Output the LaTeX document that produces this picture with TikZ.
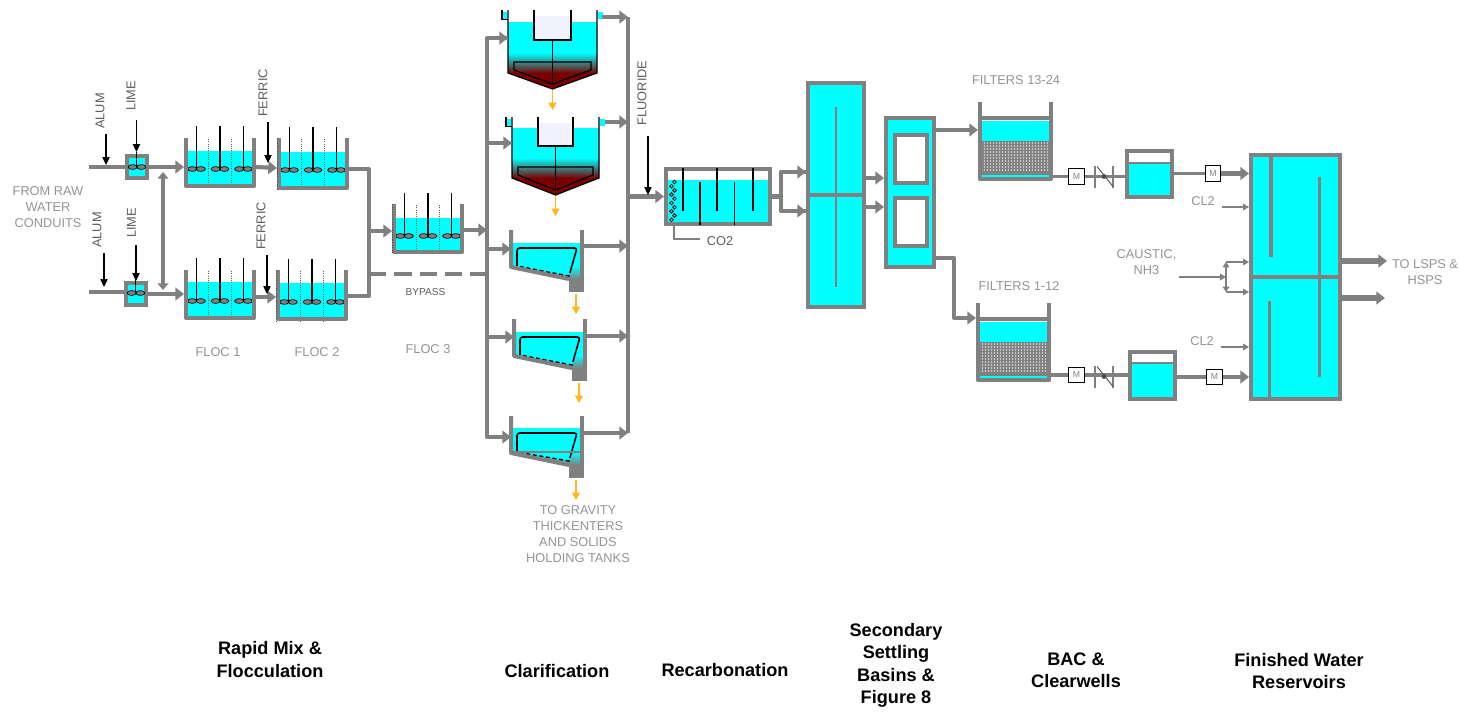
\documentclass[tikz,border=0pt]{standalone}
\usepackage{fontspec}
\setmainfont{Liberation Sans}
\usetikzlibrary{arrows.meta,calc}
\definecolor{pipegray}{HTML}{808080}
\definecolor{water}{HTML}{00FFFF}
\definecolor{sludge}{HTML}{7A0000}
\definecolor{lblgray}{HTML}{949494}
\definecolor{lbldark}{HTML}{5E5E5E}
\definecolor{orangeflow}{HTML}{FFB819}
\tikzset{
 x=0.75pt,y=-0.75pt,
 pipe/.style={draw=pipegray,line width=3.1pt,line join=round},
 pipearrow/.style={pipe,-{Triangle[length=6.5pt,width=9.5pt]}},
 thinarrow/.style={draw=pipegray,line width=.8pt,-{Triangle[length=4.5pt,width=5pt]}},
 dosearrow/.style={draw=black,line width=.9pt,-{Triangle[length=6pt,width=5.5pt]}},
 orangearrow/.style={draw=orangeflow,line width=1pt,-{Triangle[length=5.5pt,width=6pt]}},
 wall/.style={draw=pipegray,line width=3pt,line join=round},
 thinblack/.style={draw=black,line width=.9pt},
 place/.style={inner sep=0pt,outer sep=0pt},
 lbl/.style={inner sep=0pt,text=lblgray,align=center,font=\fontsize{9.6}{12}\selectfont},
 dlbl/.style={inner sep=0pt,text=lbldark,font=\fontsize{9.6}{12}\selectfont},
 head/.style={inner sep=0pt,text=black,align=center,font=\fontsize{13.6}{16.8}\selectfont\bfseries},
 meter/.style={draw=black,fill=white,line width=.9pt,inner sep=0pt,minimum size=11.5pt,text=pipegray,font=\fontsize{6.5}{7}\selectfont},
 frame/.style={draw=pipegray,line width=3pt,outer sep=1.5pt},
}
% name, x1, y1, x2, y2, style: an invisible place
\newcommand\mkBox[6]{\node[place,#6,minimum width={(#4-#2)*0.75pt},minimum height={(#5-#3)*0.75pt}] (#1) at ({(#2+#4)/2},{(#3+#5)/2}) {};}
% name, outer x1, y1, x2, y2, style: a framed box whose outer edge is at the given values
\newcommand\mkFrame[6]{\node[inner sep=0pt,frame,#6,minimum width={(#4-#2-4)*0.75pt},minimum height={(#5-#3-4)*0.75pt}] (#1) at ({(#2+#4)/2},{(#3+#5)/2}) {};}
\newcommand\paddle[2]{\draw[black,fill=pipegray,line width=.5pt] (#1-4.3,#2) ellipse [x radius=3.4pt,y radius=1.8pt] (#1+4.3,#2) ellipse [x radius=3.4pt,y radius=1.8pt];}
% name x ytop ywater ybot yshaft ypaddle
\newcommand\mkFloc[7]{
 \mkBox{#1}{#2}{#3}{#2+72}{#5}{}
 \fill[water] (#2+1,#4) rectangle (#2+71,#5);
 \foreach \dx in {24,47} \draw[pipegray!70!black,line width=.7pt,densely dotted] (#2+\dx,#3+1) -- (#2+\dx,#5);
 \foreach \dx in {12.5,36,59.5} {\draw[black,line width=.9pt] (#2+\dx,#6) -- (#2+\dx,#7); \paddle{#2+\dx}{#7}}
 \draw[wall] (#2+2,#3) -- (#2+2,#5-2) -- (#2+70,#5-2) -- (#2+70,#3);
}
% name xl xr ytop ywater ywall yapex halfbox boxbottom
\newcommand\mkClar[9]{
 \pgfmathsetmacro\cx{(#2+#3)/2}
 \mkBox{#1}{#2}{#4}{#3}{#7}{}
 \fill[water] (#2,#5) rectangle (#3,#6-20);
 \shade[top color=water,middle color=pipegray!85!sludge,bottom color=sludge] (#2,#6-20) rectangle (#3,#6);
 \fill[sludge] (#2,#6) -- (\cx,#7) -- (#3,#6) -- cycle;
 \draw[thinblack] (#2,#4) -- (#2,#6) -- (\cx,#7) -- (#3,#6) -- (#3,#4);
 \fill[white] (\cx-#8,#4) rectangle (\cx+#8,#4+6);
 \fill[black!4!blue!5!white] (\cx-#8,#4+6) rectangle (\cx+#8,#9);
 \draw[thinblack] (\cx-#8,#4) -- (\cx-#8,#9) -- (\cx+#8,#9) -- (\cx+#8,#4);
 \draw[thinblack] (\cx,#9) -- (\cx,#7-5);
 \draw[thinblack] (#2+6,#6-11) -- (#3-6,#6-11) -- (#3-6,#6-3) -- (\cx,#7-5) -- (#2+6,#6-3) -- cycle;
 \fill[water] (#2-5,#4+2) rectangle (#2-1,#4+9);
 \fill[water] (#3+1,#4+2) rectangle (#3+6,#4+9);
 \draw[thinblack] (#2-6,#4) -- (#2-6,#4+9.5) -- (#2,#4+9.5);
 \draw[orangearrow] (\cx,#7+1) -- (\cx,#7+21);
}
% name xl ytop ywater ybl
\newcommand\mkTube[5]{
 \mkBox{#1}{#2}{#3}{#2+71}{#5+25}{}
 \begin{scope}
  \clip (#2,#4) -- (#2+71,#4) -- (#2+71,#5+12) -- (#2+58,#5+12) -- (#2,#5) -- cycle;
  \fill[water] (#2,#4) rectangle (#2+71,#5+12);
  \shade[top color=water,bottom color=pipegray] (#2,#5-1) rectangle (#2+71,#5+12);
 \end{scope}
 \fill[water] (#2+6,#4+5) -- (#2+66,#4+5) -- (#2+58,#4+33) -- (#2+6,#5-1) -- cycle;
 \draw[black,line width=1.2pt,rounded corners=2pt] (#2+6,#5-1) -- (#2+6,#4+5) -- (#2+66,#4+5) -- (#2+60,#4+26);
 \draw[black,line width=1.1pt,densely dashed] (#2+60,#4+26) -- (#2+58,#4+33) -- (#2+6,#5-1);
 \fill[pipegray] (#2+58,#5+12) rectangle (#2+71,#5+25);
 \draw[wall] (#2,#3) -- (#2,#5) -- (#2+58,#5+12);
 \draw[wall] (#2+71,#3) -- (#2+71,#5+25);
 \draw[orangearrow] (#2+65,#5+27) -- (#2+65,#5+47);
}
% name x1 x2 ytop ywatertop ybot
\newcommand\mkFilter[6]{
 \mkBox{#1}{#2}{#4}{#3}{#6}{}
 \fill[water] (#2+2,#5+3) rectangle (#3-2,#5+23);
 \fill[water] (#2+2,#6-6) rectangle (#3-2,#6-2);
 \fill[pipegray] (#2+2,#5+23) rectangle (#3-2,#6-6);
 \foreach \yy in {0,3,...,27} \foreach \xx in {0,3,...,66}
  \fill[white!70!pipegray] (#2+3.5+\xx,#5+25+\yy) circle (.7pt);
 \draw[wall] (#2+2,#5) -- (#3-2,#5);
 \draw[wall] (#2+2,#4) -- (#2+2,#6-2) -- (#3-2,#6-2) -- (#3-2,#4);
}
% name x1 y1 x2 y2 ywater
\newcommand\mkWell[6]{
 \mkFrame{#1}{#2}{#3}{#4}{#5}{fill=white}
 \fill[water] (#2+2,#6) rectangle (#4-2,#5-2);
 \draw[pipegray,line width=1.5pt] (#2+2,#6) -- (#4-2,#6);
 \draw[pipegray,line width=3pt] (#2+2,#3+2) rectangle (#4-2,#5-2);
}
\newcommand\valve[3]{ % name x y
 \coordinate (#1) at (#2,#3);
 \draw[pipegray,line width=.8pt] (#2-9,#3-11) -- (#2-9,#3+11) (#2+9,#3-11) -- (#2+9,#3+11);
 \draw[pipegray!70!black,line width=.8pt] (#2-7,#3-10) -- (#2+9,#3+10);
 \fill[black!70] (#2,#3) circle (1.8pt);
}
\newcommand\dose[5]{ % name x y1 ytarget style
 \coordinate (#1s) at (#2,#3);
 \coordinate (#1e) at (#2,#4);
 \draw[#5] (#1s) -- (#1e);
}
\begin{document}
\begin{tikzpicture}
\useasboundingbox (0,0) rectangle (1459,714);
\fill[white] (0,0) rectangle (1459,714);

%% ---------- tanks ----------
\mkFrame{mixA}{125}{154}{149}{180}{fill=water}
\mkFrame{mixB}{124}{281}{148}{307}{fill=water}
\paddle{137}{167}
\paddle{136}{293}
\mkFloc{flocAa}{184}{138}{151}{188}{126}{169}
\mkFloc{flocAb}{277}{138}{152}{190}{127}{170}
\mkFloc{flocBa}{184}{270}{282}{320}{258}{301}
\mkFloc{flocBb}{276}{270}{283}{321}{259}{302}
\mkFloc{flocC}{392}{204}{218}{254}{193}{236}
\foreach \n in {flocAb,flocBb,flocC}
 \draw[black!70,line width=.9pt,densely dotted] ([xshift=.4pt]\n.north west) -- ([xshift=.4pt]\n.south west);

\mkClar{clarA}{508}{597}{10}{22}{73}{89}{18.5}{40}
\mkClar{clarB}{512}{599}{117}{128}{178}{195}{17.5}{146}
\mkTube{tubeA}{511}{230}{243}{267}
\mkTube{tubeB}{514}{319}{332}{356}
\mkTube{tubeC}{511}{416}{428}{453}
\draw[pipegray,line width=1pt] (512,452) -- (581,452);

%% recarbonation
\mkFrame{recarb}{664}{167}{772}{226}{}
\fill[water] (666,180) rectangle (770,224);
\draw[pipegray,line width=3pt] (666,169) rectangle (770,224);
\foreach \xx/\ya/\yb in {683/168/211,700/182/225,717/168/211,734.5/182/225,753/168/211}
 \draw[black,line width=.9pt] (\xx,\ya) -- (\xx,\yb);
\foreach \i in {0,...,9}
 \draw[black,line width=.6pt] ({673+(-1)^\i*1.5},{182+\i*4.2}) circle (1.4pt);

%% secondary settling
\mkFrame{settle}{806}{81}{866}{309}{fill=water}
\draw[pipegray,line width=3pt] (settle.west) -- (settle.east);
\draw[pipegray,line width=2.2pt] (836,107) -- (836,287);
%% figure 8
\mkFrame{fig}{884}{116}{936}{269}{fill=water}
\mkFrame{figA}{893}{133}{929}{185}{fill=white}
\mkFrame{figB}{893}{196}{929}{248}{fill=white}

%% filters and clearwells
\mkFilter{filtA}{978}{1053}{102}{118}{181}
\mkFilter{filtB}{976}{1051}{303}{319}{382}
\mkWell{wellA}{1125}{149}{1174}{199}{163}
\mkWell{wellB}{1128}{350}{1177}{401}{363}

%% reservoir
\mkFrame{res}{1249}{153}{1342}{401}{fill=water}
\draw[pipegray,line width=3.2pt] (res.west) -- (res.east);
\draw[pipegray,line width=2.8pt] (1271,153) -- (1271,257);
\draw[pipegray,line width=2.8pt] (1319.5,177) -- (1319.5,377);
\draw[pipegray,line width=2.8pt] (1269.5,301) -- (1269.5,401);

%% ---------- free ends and headers ----------
\coordinate (inA) at (89,167);
\coordinate (inB) at (89,292);
\coordinate (h0a) at (163,172);
\coordinate (h0b) at (163,290);
\coordinate (h1t) at (369,169);
\coordinate (h1b) at (369,296);
\coordinate (h2t) at (487,38);
\coordinate (h2b) at (487,437);
\coordinate (h3t) at (628,17);
\coordinate (h3b) at (628,433);
\coordinate (brA) at (781,172);
\coordinate (brB) at (781,211);
\coordinate (toF) at (954,258);
\coordinate (toG) at (954,318);
\coordinate (outA) at (1387,261);
\coordinate (outB) at (1385,298);

%% ---------- pipes ----------
\draw[pipe] (inA) -- (mixA.west);
\draw[pipe] (inB) -- (mixB.west |- inB);
\draw[pipearrow] (mixA.east) -- (flocAa.west |- mixA.east);
\draw[pipearrow,line width=3.6pt] (mixB.east) -- (flocBa.west |- 0,294);
\draw[pipe,line width=2.8pt,{Triangle[length=5pt,width=8pt]}-{Triangle[length=5pt,width=8pt]}] (h0a) -- (h0b);
\draw[pipearrow] (flocAa.east |- 0,167) -- (flocAb.west |- 0,168);
\draw[pipearrow] (flocBa.east |- 0,297) -- (flocBb.west |- 0,297);
\draw[pipe] (flocAb.east |- h1t) -- (h1t) -- (h1b) -- (flocBb.east |- h1b);
\draw[pipearrow] (h1t |- 0,231) -- (flocC.west |- 0,231);
\draw[pipe,dash pattern=on 13pt off 6pt] (h1t |- 0,274) -- (h2t |- 0,274);
\draw[pipearrow] (flocC.east |- 0,230) -- (h2t |- 0,230);
\draw[pipe] (clarA.west |- h2t) -- (h2t) -- (h2b) -- (tubeC.west |- h2b);
\draw[pipearrow] (h2t) -- (clarA.west |- h2t);
\draw[pipearrow] (h2t |- 0,143) -- (clarB.west |- 0,143);
\draw[pipearrow] (h2t |- 0,249) -- (tubeA.west |- 0,249);
\draw[pipearrow,line width=3.6pt] (h2t |- 0,337) -- (tubeB.west |- 0,337);
\draw[pipearrow] (h2t |- h2b) -- (tubeC.west |- h2b);
\draw[pipearrow] (602,17) -- (h3t);
\draw[pipearrow] (605,122) -- (h3t |- 0,122);
\draw[pipearrow] (tubeA.east |- 0,246) -- (h3t |- 0,246);
\draw[pipearrow] (tubeB.east |- 0,336) -- (h3t |- 0,336);
\draw[pipearrow] (tubeC.east |- h3b) -- (h3b);
\draw[pipe] (h3t) -- (h3b);
\draw[pipearrow] (h3t |- recarb.west) -- (recarb.west);
\draw[pipe,line width=3.6pt] (recarb.east) -- (brA |- recarb.east);
\draw[pipe,line width=3.6pt] (settle.west |- brA) -- (brA) -- (brB) -- (settle.west |- brB);
\draw[pipearrow,line width=3.6pt] (brA) -- (settle.west |- brA);
\draw[pipearrow,line width=3.6pt] (brB) -- (settle.west |- brB);
\draw[pipearrow] (settle.east |- 0,178) -- (fig.west |- 0,178);
\draw[pipearrow,line width=3.6pt] (settle.east |- 0,207) -- (fig.west |- 0,207);
\draw[pipearrow] (fig.east |- 0,130) -- (filtA.west |- 0,130);
\draw[pipe] (fig.east |- toF) -- (toF) -- (toG);
\draw[pipearrow] (toF) -- (toG) -- (filtB.west |- toG);
\coordinate (mAc) at (1076.5,176.5);
\coordinate (mBc) at (1076.5,375);
\coordinate (mCc) at (1213,173.5);
\coordinate (mDc) at (1214.5,377);
\draw[pipe,line width=2.6pt] (filtA.east |- mAc) -- (wellA.west |- mAc);
\draw[pipe,line width=2.6pt] (filtB.east |- mBc) -- (wellB.west |- mBc);
\valve{vA}{1104}{176.5}
\valve{vB}{1104}{376.5}
\draw[pipe,line width=2.6pt] (wellA.east |- mCc) -- (mCc);
\draw[pipe,line width=2.6pt] (wellB.east |- mDc) -- (mDc);
\draw[pipearrow] (mCc) -- (res.west |- mCc);
\draw[pipearrow] (mDc) -- (res.west |- mDc);
\draw[pipearrow,line width=4.6pt] (res.east |- outA) -- (outA);
\draw[pipearrow,line width=4.6pt] (res.east |- outB) -- (outB);
\node[meter] (mA) at (mAc) {M};
\node[meter] (mB) at (mBc) {M};
\node[meter] (mC) at (mCc) {M};
\node[meter] (mD) at (mDc) {M};

%% ---------- chemical dosing ----------
\dose{alumA}{106}{134}{165}{dosearrow}
\dose{limeA}{136.5}{120}{152}{dosearrow}
\draw[black,line width=.9pt] (limeAe) -- (136.5,166);
\dose{ferrA}{268}{122}{163}{dosearrow}
\dose{alumB}{104}{253}{287}{dosearrow}
\dose{limeB}{136}{245}{281}{dosearrow}
\draw[black,line width=1.2pt] (135.5,261) -- (135.5,292);
\dose{ferrB}{267}{255}{294}{dosearrow}
\dose{fluo}{648}{136}{195}{dosearrow}
\coordinate (co2a) at (700,239);
\coordinate (co2b) at (674,239);
\draw[pipegray,line width=.8pt] (co2a) -- (co2b) -- (674,222);
\coordinate (clAs) at (1222,207);
\coordinate (clBs) at (1221,347);
\coordinate (cauS) at (1179,277);
\coordinate (cauJ) at (1226,277);
\coordinate (cauT) at (1226,262);
\coordinate (cauB) at (1226,292);
\draw[thinarrow] (clAs) -- (res.west |- clAs);
\draw[thinarrow] (clBs) -- (res.west |- clBs);
\draw[thinarrow] (cauS) -- (cauJ);
\draw[thinarrow,{Triangle[length=4pt,width=5pt]}-] (cauT) -- (cauJ);
\draw[thinarrow,{Triangle[length=4pt,width=5pt]}-] (cauB) -- (cauJ);
\draw[thinarrow] (cauT) -- (res.west |- cauT);
\draw[thinarrow] (cauB) -- (res.west |- cauB);

%% ---------- labels ----------
\node[lbl] (t1) at (48,207) {FROM RAW\\WATER\\CONDUITS};
\node[dlbl,rotate=90] (t2) at (100,111) {ALUM};
\node[dlbl,rotate=90] (t3) at (131,96) {LIME};
\node[dlbl,rotate=90] (t4) at (263,93) {FERRIC};
\node[dlbl,rotate=90] (t5) at (97,230) {ALUM};
\node[dlbl,rotate=90] (t6) at (131.5,223) {LIME};
\node[dlbl,rotate=90] (t7) at (261,226) {FERRIC};
\node[lbl] (t8) at (218,352) {FLOC 1};
\node[lbl] (t9) at (317,352) {FLOC 2};
\node[lbl] (t10) at (428,349) {FLOC 3};
\node[inner sep=0pt,text=lbldark,font=\fontsize{7.6}{9}\selectfont] (t11) at (425.5,292) {BYPASS};
\node[lbl] (t12) at (578,534) {TO GRAVITY\\THICKENTERS\\AND SOLIDS\\HOLDING TANKS};
\node[dlbl,rotate=90] (t13) at (642,93) {FLUORIDE};
\node[dlbl] (t14) at (720,241) {CO2};
\node[lbl] (t15) at (1016,80) {FILTERS 13-24};
\node[lbl] (t16) at (1019,286) {FILTERS 1-12};
\node[lbl] (t17) at (1203,201) {CL2};
\node[lbl] (t18) at (1202,341) {CL2};
\node[lbl] (t19) at (1146.5,262) {CAUSTIC,\\NH3};
\node[lbl] (t20) at (1425,272.5) {TO LSPS \&\\HSPS};
\node[head] (h1) at (270,659.5) {Rapid Mix \&\\Flocculation};
\node[head] (h2) at (557,671) {Clarification};
\node[head] (h3) at (725,670) {Recarbonation};
\node[head] (h4) at (896,665.5) {Secondary\\Settling\\Basins \&\\Figure 8};
\node[head] (h5) at (1076,670.5) {BAC \&\\Clearwells};
\node[head] (h6) at (1299,671) {Finished Water\\Reservoirs};
\end{tikzpicture}
\end{document}
